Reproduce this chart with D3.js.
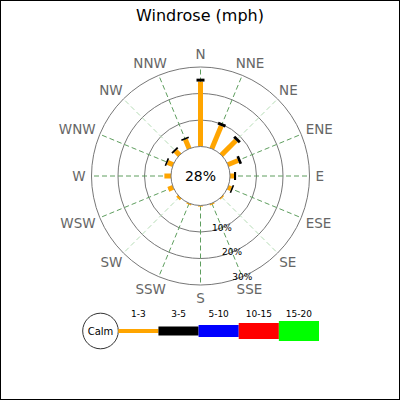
<!DOCTYPE html>
<html>
<head>
<meta charset="utf-8">
<script src="https://cdn.jsdelivr.net/npm/d3@7"></script>
<style>
  body { margin: 0; background: #fff; }
  svg { display: block; font-family: "DejaVu Sans", sans-serif; }
</style>
</head>
<body>
<div id="chart"></div>
<script>
// wind directions, clockwise from north
var directions = ["N", "NNE", "NE", "ENE", "E", "ESE", "SE", "SSE",
                  "S", "SSW", "SW", "WSW", "W", "WNW", "NW", "NNW"];
// percentage per direction for each speed range
var range1to3 = [24.5, 9.3, 7.8, 4.2, 1.5, 1.4, 0.5, 0.5, 0.4, 0.5, 0.9, 2.0, 2.5, 2.3, 2.2, 3.8];
var range3to5 = [1.1, 1.1, 1.1, 1.0, 0.8, 0.6, 0, 0, 0, 0, 0, 0, 0, 0.6, 0.7, 0.6];
var calmPct = 28;
var ringTicks = [10, 20, 30];
var legendLabels = ["1-3", "3-5", "5-10", "10-15", "15-20"];
var legendColors = ["orange", "black", "blue", "red", "#00ff00"];

const W = 400, H = 400;
const cx = 200.5, cy = 176;
const rCalm = 29.5, rOuter = 109;

var svg = d3.select("#chart")
  .append("svg")
  .attr("width", W)
  .attr("height", H);

svg.append("rect")
  .attr("x", 0.5).attr("y", 0.5)
  .attr("width", W - 1).attr("height", H - 1)
  .attr("fill", "#fff")
  .attr("stroke", "#000");

svg.append("text")
  .attr("x", 200).attr("y", 21)
  .attr("text-anchor", "middle")
  .style("font-size", "16px")
  .text("Windrose (mph)");

var r = d3.scaleLinear().domain([0, 30]).range([rCalm, rOuter]);
var angle = d3.scaleLinear().domain([0, directions.length]).range([0, 2 * Math.PI]);

var g = svg.append("g").attr("transform", "translate(" + cx + "," + cy + ")");

// rings (the 30% ring is the outer circle)
g.selectAll(".ring")
  .data(ringTicks)
  .enter()
  .append("circle")
  .attr("class", "ring")
  .attr("r", function(d) {return r(d);})
  .attr("fill", "none")
  .attr("stroke", "#777")
  .attr("stroke-width", 1);

// spokes, diagonals lighter
g.selectAll(".spoke")
  .data(directions)
  .enter()
  .append("line")
  .attr("class", "spoke")
  .attr("x1", function(d, i) {return rCalm * Math.sin(angle(i));})
  .attr("y1", function(d, i) {return -rCalm * Math.cos(angle(i));})
  .attr("x2", function(d, i) {return rOuter * Math.sin(angle(i));})
  .attr("y2", function(d, i) {return -rOuter * Math.cos(angle(i));})
  .attr("stroke", function(d, i) {return (i % 4 == 2) ? "#b5dcb5" : "#5e9e5e";})
  .attr("stroke-width", 1)
  .attr("stroke-dasharray", "5,3");

// ring labels along SSE
var labAng = angle(7);
g.selectAll(".ringlabel")
  .data(ringTicks)
  .enter()
  .append("text")
  .attr("class", "ringlabel")
  .attr("x", function(d) {return r(d) * Math.sin(labAng);})
  .attr("y", function(d) {return -r(d) * Math.cos(labAng);})
  .attr("text-anchor", "middle")
  .attr("dominant-baseline", "central")
  .style("font-size", "9px")
  .text(function(d) {return d + "%";});

function seg(i, p0, p1) {
  var a = angle(i);
  return {x1: r(p0) * Math.sin(a), y1: -r(p0) * Math.cos(a),
          x2: r(p1) * Math.sin(a), y2: -r(p1) * Math.cos(a)};
}

// 1-3 mph
g.selectAll(".bar1")
  .data(range1to3)
  .enter()
  .append("line")
  .attr("class", "bar1")
  .each(function(d, i) {
    var s = seg(i, 0, d);
    d3.select(this).attr("x1", s.x1).attr("y1", s.y1).attr("x2", s.x2).attr("y2", s.y2);
  })
  .attr("stroke", "orange")
  .attr("stroke-width", 5);

// 3-5 mph, stacked after 1-3
g.selectAll(".bar2")
  .data(range3to5)
  .enter()
  .append("line")
  .attr("class", "bar2")
  .each(function(d, i) {
    var s = seg(i, range1to3[i], range1to3[i] + d);
    d3.select(this).attr("x1", s.x1).attr("y1", s.y1).attr("x2", s.x2).attr("y2", s.y2);
  })
  .attr("stroke", "black")
  .attr("stroke-width", 8)
  .style("display", function(d) {return d > 0 ? null : "none";});

// calm circle
g.append("circle")
  .attr("r", rCalm)
  .attr("fill", "#fff")
  .attr("stroke", "#777");
g.append("text")
  .attr("dominant-baseline", "central")
  .attr("text-anchor", "middle")
  .style("font-size", "14px")
  .text(calmPct + "%");

// compass labels
var pad = 6;
g.selectAll(".compass")
  .data(directions)
  .enter()
  .append("text")
  .attr("class", "compass")
  .attr("text-anchor", "middle")
  .attr("dominant-baseline", "central")
  .style("font-size", "13.5px")
  .attr("fill", "#666")
  .text(function(d) {return d;})
  .each(function(d, i) {
    var a = angle(i), ux = Math.sin(a), uy = -Math.cos(a);
    var w = this.getComputedTextLength(), h = 14;
    d3.select(this)
      .attr("x", (rOuter + pad) * ux + ux * w / 2)
      .attr("y", (rOuter + pad) * uy + uy * h / 2);
  });

// legend
var lg = svg.append("g");
var x = d3.scaleLinear().domain([0, legendLabels.length]).range([118.3, 319]);
var legendWidths = [4, 9, 12, 16, 20];
var ly = 331;

lg.append("circle")
  .attr("cx", 100.5).attr("cy", ly).attr("r", 17.8)
  .attr("fill", "#fff").attr("stroke", "#333");
lg.append("text")
  .attr("x", 100.5).attr("y", ly)
  .attr("text-anchor", "middle")
  .attr("dominant-baseline", "central")
  .style("font-size", "10px")
  .text("Calm");

lg.selectAll(".lrect")
  .data(legendLabels)
  .enter()
  .append("rect")
  .attr("class", "lrect")
  .attr("x", function(d, i) {return x(i);})
  .attr("y", function(d, i) {return ly - legendWidths[i] / 2;})
  .attr("width", function(d, i) {return x(i + 1) - x(i);})
  .attr("height", function(d, i) {return legendWidths[i];})
  .attr("fill", function(d, i) {return legendColors[i];});

lg.selectAll(".ltext")
  .data(legendLabels)
  .enter()
  .append("text")
  .attr("class", "ltext")
  .attr("x", function(d, i) {return (x(i) + x(i + 1)) / 2;})
  .attr("y", 317)
  .attr("text-anchor", "middle")
  .style("font-size", "9px")
  .text(function(d) {return d;});
</script>
</body>
</html>
